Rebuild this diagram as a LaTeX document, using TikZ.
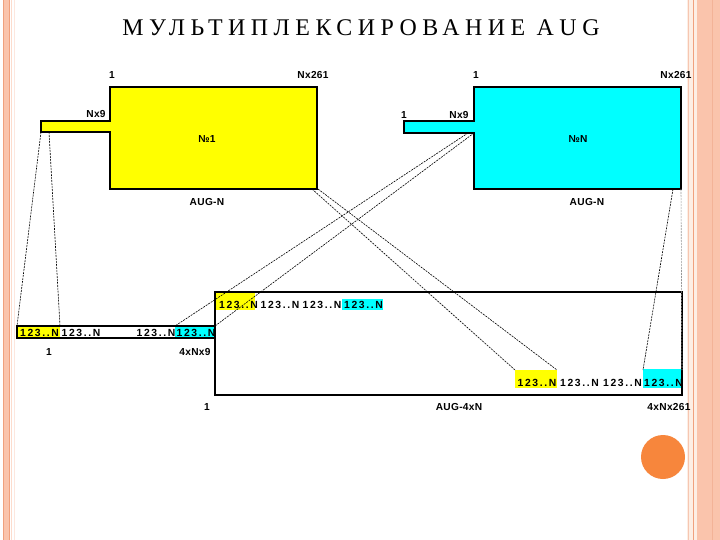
\documentclass[tikz,border=0pt]{standalone}
\usepackage{fontspec}
\setmainfont{Liberation Serif}
\setsansfont{Liberation Sans}
\newfontfamily\labfont{Liberation Sans}[LetterSpace=3]
\newfontfamily\cellfont{Liberation Sans}[LetterSpace=16]
\newfontfamily\titlefont{Liberation Serif}[LetterSpace=23]
\definecolor{salmon}{RGB}{250,196,172}
\definecolor{salmonline}{RGB}{240,160,125}
\definecolor{beige}{RGB}{253,238,228}
\definecolor{orangedot}{RGB}{247,134,60}
\definecolor{yel}{RGB}{255,255,0}
\definecolor{cya}{RGB}{0,255,255}
\begin{document}
\begin{tikzpicture}[x=1bp,y=-1bp,
  lab/.style={font=\labfont\bfseries\fontsize{10.2}{12}\selectfont, inner sep=0},
  cellt/.style={font=\cellfont\bfseries\fontsize{10.4}{12}\selectfont, inner sep=0},
  boxline/.style={draw=black, line width=1.2bp},
  link/.style={line width=0.6bp, dash pattern=on 2bp off 1bp},
  titlestyle/.style={font=\titlefont\fontsize{24}{26}\selectfont, inner sep=0}]
\useasboundingbox (0,0) rectangle (720,540);
\fill[white] (0,0) rectangle (720,540);
% side decorations
\fill[salmon] (3,0) rectangle (10,540);
\draw[salmonline, line width=0.6bp] (3.3,0) -- (3.3,540);
\draw[salmonline, line width=0.6bp] (9.7,0) -- (9.7,540);
\draw[salmon!60, line width=0.6bp] (11.5,0) -- (11.5,540);
\draw[salmon!40, line width=0.6bp] (14,0) -- (14,540);
\fill[beige] (687,0) rectangle (720,540);
\draw[salmonline!60, line width=0.6bp] (688.5,0) -- (688.5,540);
\draw[salmonline, line width=1bp] (693.5,0) -- (693.5,540);
\fill[salmon] (697,0) rectangle (720,540);
\draw[salmonline!80, line width=0.8bp] (712.5,0) -- (712.5,540);
\fill[orangedot] (663,457) circle (22);
% title
\node[titlestyle] (title) at (361,28) {МУЛЬТИПЛЕКСИРОВАНИЕ AUG};
% AUG-N #1
\draw[boxline, fill=yel] (110,87) -- (317,87) -- (317,189) -- (110,189) -- (110,132) -- (41,132) -- (41,121) -- (110,121) -- cycle;
\node[lab] (a1) at (112,75) {1};
\node[lab] (a2) at (313,75) {Nx261};
\node[lab] (a3) at (96,114) {Nx9};
\node[lab] (a4) at (207,139) {№1};
\node[lab] (a5) at (207,202) {AUG-N};
% AUG-N #N
\draw[boxline, fill=cya] (474,87) -- (681,87) -- (681,189) -- (474,189) -- (474,133) -- (404,133) -- (404,121) -- (474,121) -- cycle;
\node[lab] (b1) at (476,75) {1};
\node[lab] (b2) at (676,75) {Nx261};
\node[lab] (b3) at (404,115) {1};
\node[lab] (b4) at (459,115) {Nx9};
\node[lab] (b5) at (578,139) {№N};
\node[lab] (b6) at (587,202) {AUG-N};
% left strip 4xNx9
\fill[yel] (17,326) rectangle (60,338);
\fill[cya] (175,326) rectangle (215,338);
\draw[boxline] (17,326) rectangle (215,338);
\node[cellt] (s1) at (39.5,332.5) {123..N};
\node[cellt] (s2) at (81,332.5) {123..N};
\node[cellt] (s3) at (156,332.5) {123..N};
\node[cellt] (s4) at (196,332.5) {123..N};
\node[lab] (c1) at (49,352) {1};
\node[lab] (c2) at (195,352) {4xNx9};
% AUG-4xN
\fill[yel] (215,292) rectangle (255,310);
\fill[cya] (342,299) rectangle (383,310);
\fill[yel] (515,370) rectangle (557,388);
\fill[cya] (643,369) rectangle (682,388);
\draw[boxline] (215,292) rectangle (682,395);
\node[cellt] (r1) at (238.5,304.5) {123..N};
\node[cellt] (r2) at (280,304.5) {123..N};
\node[cellt] (r3) at (322,304.5) {123..N};
\node[cellt] (r4) at (363.5,304.5) {123..N};
\node[cellt] (q1) at (537,382.5) {123..N};
\node[cellt] (q2) at (579.5,382.5) {123..N};
\node[cellt] (q3) at (622.5,382.5) {123..N};
\node[cellt] (q4) at (663.5,382.5) {123..N};
\node[lab] (d1) at (207,407) {1};
\node[lab] (d2) at (459,407) {AUG-4xN};
\node[lab] (d3) at (669,407) {4xNx261};
% link end points
\coordinate (ya) at (41,132); \coordinate (sa) at (17,326);
\coordinate (yb) at (49,132); \coordinate (sb) at (60,326);
\coordinate (yc) at (312,189); \coordinate (qa) at (515,370);
\coordinate (yd) at (318,189); \coordinate (qb) at (557,370);
\coordinate (ca) at (468,133); \coordinate (sc) at (175,326);
\coordinate (cb) at (474,133); \coordinate (sd) at (215,326);
\coordinate (cc) at (673,189); \coordinate (qc) at (643,370);
\coordinate (cd) at (681,189); \coordinate (qd) at (682,370);
\draw[link] (ya) -- (sa);
\draw[link] (yb) -- (sb);
\draw[link] (yc) -- (qa);
\draw[link] (yd) -- (qb);
\draw[link] (ca) -- (sc);
\draw[link] (cb) -- (sd);
\draw[link] (cc) -- (qc);
\draw[link, black!40] (cd) -- (qd);
\end{tikzpicture}
\end{document}
